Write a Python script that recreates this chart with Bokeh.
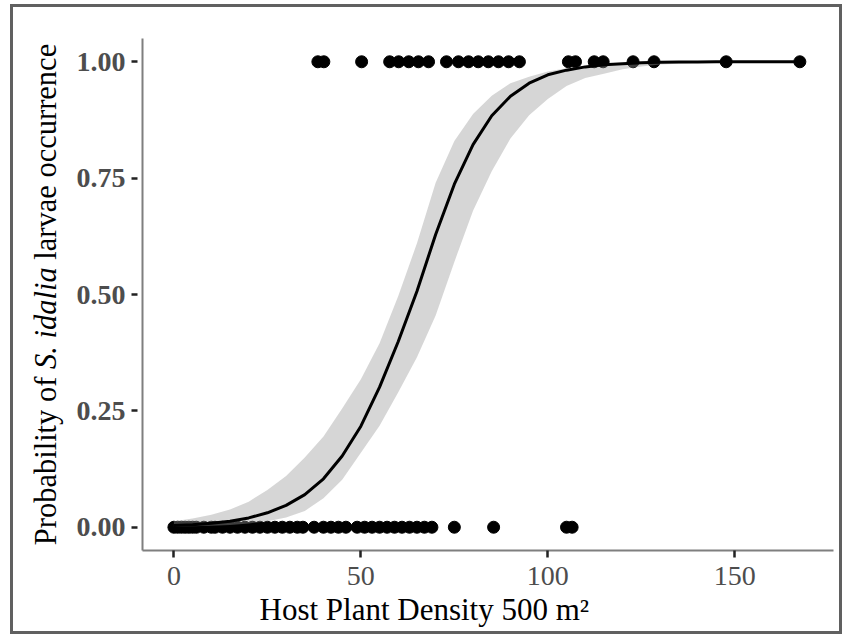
from bokeh.plotting import figure
from bokeh.models import Range1d, FixedTicker, Label, Title, NumeralTickFormatter
from bokeh.layouts import row
from bokeh.embed import file_html
from bokeh.resources import INLINE

# ---- data ----
present_x = [38.5, 40.1, 50.2, 57.7, 60.1, 62.8, 65.4, 68.1, 72.9, 76.1, 78.8,
             81.4, 84.1, 86.8, 89.5, 92.4, 105.5, 107.4, 112.4, 114.8, 122.8,
             128.4, 147.7, 167.4]
present_y = [1.0] * len(present_x)

absent_x = [0, 1, 2, 3, 4, 5, 6, 8, 10, 11, 13, 15, 17, 19, 21, 23, 25, 27, 29,
            31, 33, 34.5, 37.5, 40, 42, 44, 46, 49, 51, 53, 55, 57, 59, 61, 63, 65,
            67, 69, 75, 85.5, 105, 106.5]
absent_y = [0.0] * len(absent_x)

fit_x = [0, 5, 10, 15, 20, 25, 30, 35, 40, 45, 50, 55, 60, 65, 70, 75, 80, 85,
         90, 95, 100, 105, 110, 115, 120, 125, 130, 135, 140, 145, 150, 155,
         160, 165, 168]
fit_y = [0.0036, 0.0055, 0.0085, 0.013, 0.020, 0.031, 0.047, 0.070, 0.104,
         0.153, 0.217, 0.301, 0.399, 0.507, 0.629, 0.737, 0.822, 0.884, 0.926,
         0.954, 0.972, 0.982, 0.989, 0.9935, 0.996, 0.998, 0.999, 0.9994,
         0.9996, 0.9998, 0.9999, 1.0, 1.0, 1.0, 1.0]
fit_lower = [0.001, 0.002, 0.003, 0.005, 0.008, 0.013, 0.021, 0.035, 0.062,
             0.102, 0.160, 0.218, 0.290, 0.365, 0.455, 0.570, 0.680, 0.765,
             0.835, 0.885, 0.920, 0.948, 0.965, 0.974, 0.984, 0.990, 0.994,
             0.996, 0.998, 0.999, 0.9995, 0.9997, 0.9998, 0.9999, 0.9999]
fit_upper = [0.013, 0.019, 0.027, 0.038, 0.055, 0.080, 0.110, 0.150, 0.195,
             0.255, 0.318, 0.395, 0.497, 0.610, 0.740, 0.830, 0.888, 0.927,
             0.954, 0.968, 0.979, 0.986, 0.991, 0.994, 0.996, 0.998, 0.999,
             0.9995, 0.9997, 0.9998, 0.9999, 1.0, 1.0, 1.0, 1.0]

x_ticks = [0, 50, 100, 150]
y_ticks = [0, 0.25, 0.5, 0.75, 1.0]

x_title = "Host Plant Density 500 m²"
y_title_parts = ["Probability of", "S. idalia", "larvae occurrence"]

FONT = "Liberation Serif"
H = 624
FS = 31
YFS = 30.5

# ---- narrow panel that holds the y-axis title (its frame aligns with the main frame) ----
t = figure(width=59, height=H, output_backend="svg", toolbar_location=None,
           x_axis_type=None, y_axis_type=None,
           x_range=Range1d(0, 1), y_range=Range1d(0, 1),
           min_border=0)
t.grid.visible = False
t.outline_line_color = None
t.border_fill_color = "white"
t.background_fill_color = "white"

# run widths in em (Times metrics): "Probability of " = 5.778, "S. idalia " = 3.584
start = 256 - 16.441 * YFS / 2
starts = [start, start + 5.778 * YFS, start + 9.362 * YFS]
styles = ["normal", "italic", "normal"]
for txt, st, y0 in zip(y_title_parts, styles, starts):
    t.add_layout(Label(x=32, y=y0, x_units="screen", y_units="screen",
                       text=txt, angle=90, angle_units="deg",
                       text_font=FONT, text_font_size=f"{YFS}px",
                       text_font_style=st, text_color="black",
                       text_align="left", text_baseline="middle"))

# ---- main plot ----
p = figure(width=767, height=H, output_backend="svg", toolbar_location=None,
           x_range=Range1d(-8.4, 176.4), y_range=Range1d(-0.05, 1.05),
           min_border_left=70, min_border_top=31, min_border_right=6,
           min_border_bottom=81)
p.grid.visible = False
p.outline_line_color = None
p.background_fill_color = "white"
p.border_fill_color = "white"

p.scatter(absent_x, absent_y, size=12, color="black")
p.scatter(present_x, present_y, size=12, color="black")
p.varea(x=fit_x, y1=fit_lower, y2=fit_upper, fill_color="#999999", fill_alpha=0.4)
p.line(fit_x, fit_y, line_width=3, color="black")

for ax in (p.xaxis, p.yaxis):
    ax.axis_line_color = "#7f7f7f"
    ax.axis_line_width = 2
    ax.major_tick_line_color = "#222222"
    ax.major_tick_line_width = 2.5
    ax.minor_tick_line_color = None
    ax.major_label_text_font = FONT
    ax.major_label_text_font_size = "28px"
    ax.major_label_text_color = "#4d4d4d"

p.xaxis.major_tick_out = 7
p.xaxis.major_tick_in = 0
p.yaxis.major_tick_out = 11
p.yaxis.major_tick_in = -5

p.xaxis.ticker = FixedTicker(ticks=x_ticks)
p.yaxis.ticker = FixedTicker(ticks=y_ticks)
p.yaxis.formatter = NumeralTickFormatter(format="0.00")
p.yaxis.major_label_text_font_style = "bold"
p.xaxis.major_label_standoff = 9
p.yaxis.major_label_standoff = 6

p.add_layout(Title(text=x_title, align="left", offset=117, text_font=FONT,
                   text_font_size=f"{FS}px", text_font_style="normal",
                   text_color="black", standoff=4), "below")

lay = row(t, p, spacing=0)
lay.styles = {"border": "3px solid #606060", "margin-left": "10px",
              "margin-top": "4px", "background-color": "white"}

open("out.html", "w").write(file_html(lay, INLINE))
